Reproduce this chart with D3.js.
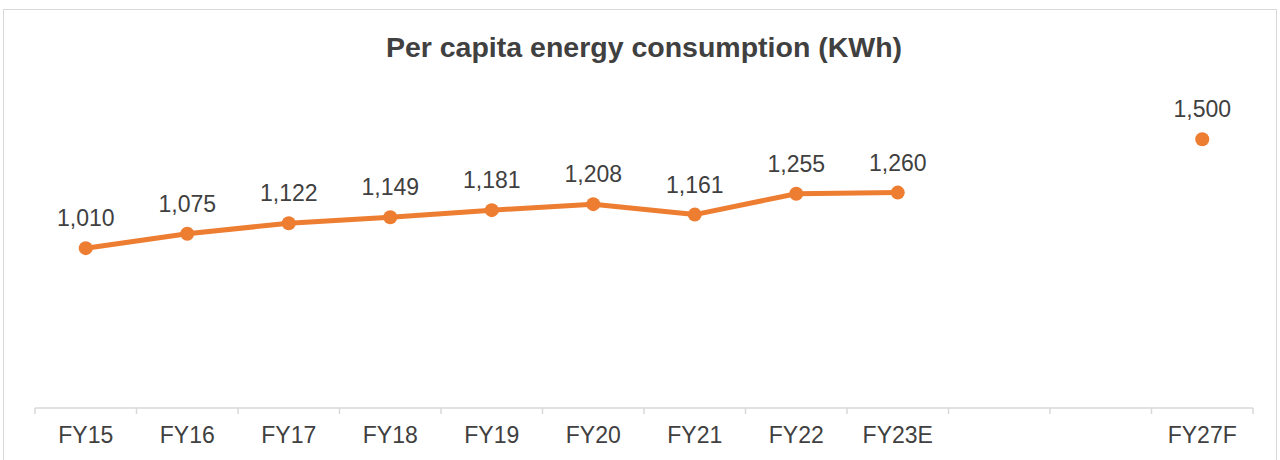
<!DOCTYPE html>
<html>
<head>
<meta charset="utf-8">
<script src="https://cdn.jsdelivr.net/npm/d3@7"></script>
<style>
  body { margin: 0; background: #fff; }
  text { font-family: Arial, "Liberation Sans", sans-serif; }
</style>
</head>
<body>
<svg width="1280" height="460"></svg>
<script>
var categories = ["FY15", "FY16", "FY17", "FY18", "FY19", "FY20", "FY21", "FY22", "FY23E", "", " ", "FY27F"];
var actuals = [1010, 1075, 1122, 1149, 1181, 1208, 1161, 1255, 1260];
var forecast = [1500];
var forecastCategory = ["FY27F"];

var svg = d3.select("svg"),
  width = +svg.attr("width"),
  height = +svg.attr("height");

var lineData = actuals.map(function(v, i) { return { cat: categories[i], value: v }; });
var dotData = lineData.concat(forecast.map(function(v, i) { return { cat: forecastCategory[i], value: v }; }));

// chart frame
svg.append("rect")
  .attr("x", 3.5).attr("y", 9.5)
  .attr("width", 1273).attr("height", 460)
  .attr("fill", "none")
  .attr("stroke", "#d9d9d9");

svg.append("text")
  .attr("x", 644).attr("y", 57)
  .attr("text-anchor", "middle")
  .attr("font-weight", "bold")
  .attr("font-size", 28.5)
  .attr("fill", "#404040")
  .text("Per capita energy consumption (KWh)");

var x = d3.scaleBand()
  .domain(categories)
  .range([35, 1253]);

var y = d3.scaleLinear()
  .domain([300, 1600])
  .range([406, 117]);

var cx = function(d) { return x(d.cat) + x.bandwidth() / 2; };

// category axis with ticks on band boundaries
var axisG = svg.append("g").attr("transform", "translate(0,408)");
axisG.append("line")
  .attr("x1", 35).attr("x2", 1253)
  .attr("stroke", "#d9d9d9").attr("stroke-width", 1.5);
axisG.selectAll(".tick")
  .data(categories.concat(["end"]))
  .enter().append("line")
  .attr("x1", function(d, i) { return 35 + i * x.step(); })
  .attr("x2", function(d, i) { return 35 + i * x.step(); })
  .attr("y1", 0).attr("y2", 6)
  .attr("stroke", "#d9d9d9").attr("stroke-width", 1.5);
axisG.selectAll(".lbl")
  .data(categories)
  .enter().append("text")
  .attr("x", function(d) { return x(d) + x.bandwidth() / 2; })
  .attr("y", 35)
  .attr("text-anchor", "middle")
  .attr("font-size", 23)
  .attr("fill", "#404040")
  .text(function(d) { return d.trim(); });

var line = d3.line()
  .x(cx)
  .y(function(d) { return y(d.value); });

svg.append("path")
  .datum(lineData)
  .attr("d", line)
  .attr("fill", "none")
  .attr("stroke", "#ed7d31")
  .attr("stroke-width", 5)
  .attr("stroke-linejoin", "round");

svg.selectAll(".dot")
  .data(dotData)
  .enter().append("circle")
  .attr("cx", cx)
  .attr("cy", function(d) { return y(d.value); })
  .attr("r", 7)
  .attr("fill", "#ed7d31");

svg.selectAll(".val")
  .data(dotData)
  .enter().append("text")
  .attr("x", cx)
  .attr("y", function(d) { return y(d.value) - 22; })
  .attr("text-anchor", "middle")
  .attr("font-size", 23)
  .attr("fill", "#404040")
  .text(function(d) { return d3.format(",")(d.value); });
</script>
</body>
</html>
